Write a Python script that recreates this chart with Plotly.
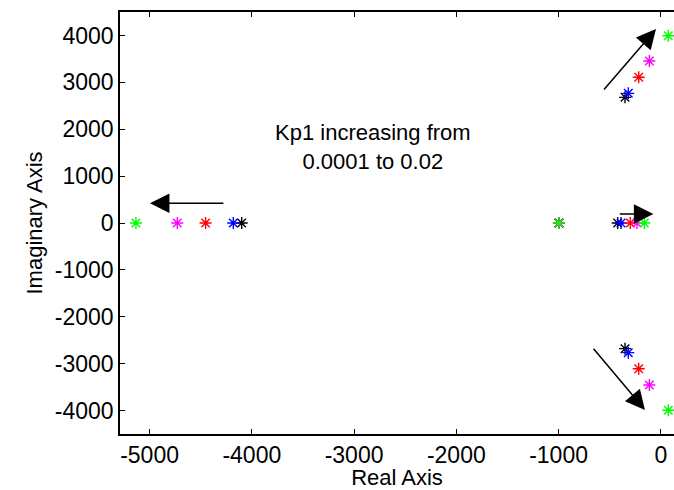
import plotly.graph_objects as go

# Kp1 cases (increasing from 0.0001 to 0.02)
colors = ["#000000", "#0000ff", "#ff0000", "#ff00ff", "#00ff00"]
far_real = [-4099, -4181, -4452, -4729, -5133]
mid_real = [-996, -996, -996, -996, -996]
near_real = [-422, -389, -298, -233, -161]
cplx_real = [-350, -318, -216, -112, 73]
cplx_imag = [2680, 2765, 3107, 3454, 3994]

x_ticks = [-5000, -4000, -3000, -2000, -1000, 0]
x_ticktext = ["-5000", "-4000", "-3000", "-2000", "-1000", "0"]
y_ticks = [-4000, -3000, -2000, -1000, 0, 1000, 2000, 3000, 4000]
y_ticktext = ["-4000", "-3000", "-2000", "-1000", "0", "1000", "2000", "3000", "4000"]

# arrows: (tail_x, tail_y, tip_x, tip_y)
arrows = [
    (-4263, 420, -4996, 420),
    (-416, 192, -73, 192),
    (-568, 2814, -47, 4136),
    (-670, -2650, -155, -3987),
]

fig = go.Figure()
for i, c in enumerate(colors):
    xs = [far_real[i], mid_real[i], near_real[i], cplx_real[i], cplx_real[i]]
    ys = [0, 0, 0, cplx_imag[i], -cplx_imag[i]]
    fig.add_trace(go.Scatter(
        x=xs, y=ys, mode="markers",
        marker=dict(symbol="asterisk-open", size=10, color=c,
                    line=dict(color=c, width=1.4)),
        showlegend=False, hoverinfo="x+y"))

for tx, ty, hx, hy in arrows:
    fig.add_annotation(x=hx, y=hy, ax=tx, ay=ty, xref="x", yref="y",
                       axref="x", ayref="y", showarrow=True, text="",
                       arrowhead=2, arrowsize=2.6, arrowwidth=1.5,
                       arrowcolor="black", standoff=0)

fig.add_annotation(x=-2810, y=1620, xref="x", yref="y", showarrow=False,
                   text="Kp1 increasing from<br>0.0001 to 0.02",
                   font=dict(size=22, color="black",
                             family="Liberation Sans, Arial, sans-serif"),
                   align="center")

fig.update_layout(
    width=674, height=490,
    margin=dict(l=120, r=0, t=12, b=56),
    paper_bgcolor="white", plot_bgcolor="white",
    font=dict(family="Liberation Sans, Arial, sans-serif", size=22, color="black"),
    xaxis=dict(range=[-5289, 129], tickvals=x_ticks, ticktext=x_ticktext,
               showgrid=False, zeroline=False, showline=True, linecolor="black",
               linewidth=1.5, mirror="ticks", ticks="inside", ticklen=5,
               tickcolor="black", tickwidth=1,
               title=dict(text="Real Axis", standoff=2, font=dict(size=22)),
               tickfont=dict(size=23)),
    yaxis=dict(range=[-4500, 4500], tickvals=y_ticks, ticktext=y_ticktext,
               showgrid=False, zeroline=False, showline=True, linecolor="black",
               linewidth=1.5, mirror=False, ticks="inside", ticklen=5,
               tickcolor="black", tickwidth=1,
               title=dict(text="Imaginary Axis", standoff=6, font=dict(size=22)),
               tickfont=dict(size=23)),
)

fig.write_html("out.html")
